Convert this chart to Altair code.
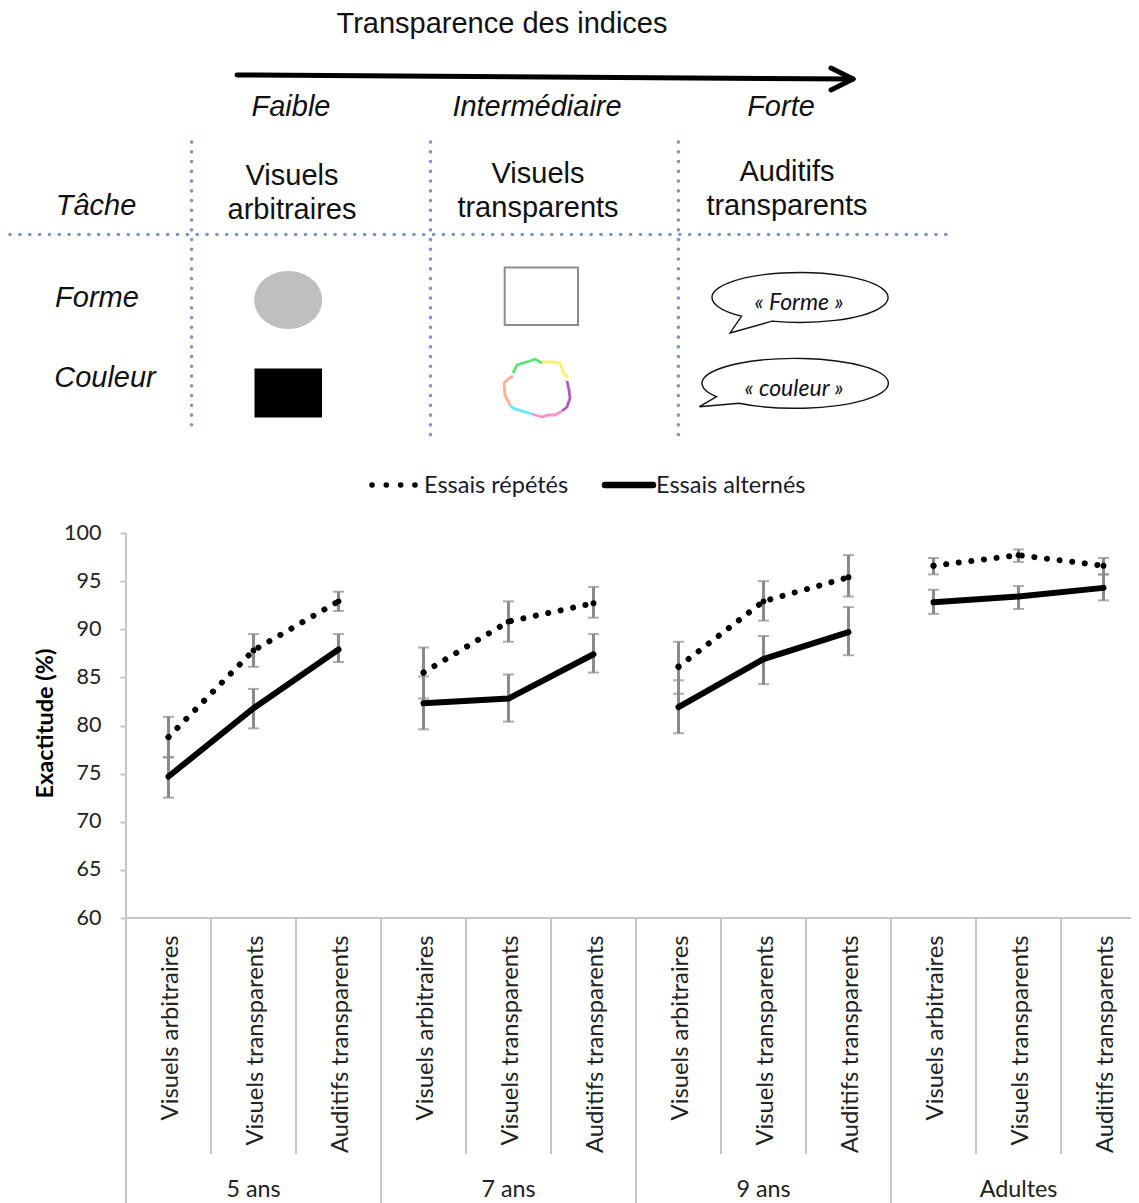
import altair as alt
import pandas as pd

# ---------- chart data ----------
groups = ["5 ans", "7 ans", "9 ans", "Adultes"]
cues = ["Visuels arbitraires", "Visuels transparents", "Auditifs transparents"]
rep_mean = [78.8, 87.8, 92.9, 85.5, 90.8, 92.7, 86.1, 92.9, 95.4, 96.6, 97.7, 96.6]
rep_top = [80.9, 89.5, 93.9, 88.1, 92.9, 94.4, 88.7, 95.0, 97.7, 97.4, 98.3, 97.4]
rep_low = [76.7, 86.1, 91.9, 82.8, 88.7, 91.2, 83.3, 90.9, 93.4, 95.7, 97.0, 95.7]
alt_mean = [74.7, 81.8, 87.9, 82.3, 82.8, 87.4, 81.9, 86.9, 89.7, 92.8, 93.4, 94.3]
alt_top = [76.7, 83.8, 89.5, 85.1, 85.3, 89.5, 84.7, 89.3, 92.3, 94.1, 94.5, 95.7]
alt_low = [72.5, 79.7, 86.6, 79.6, 80.4, 85.5, 79.2, 84.3, 87.3, 91.6, 92.1, 93.0]
y_ticks = [60, 65, 70, 75, 80, 85, 90, 95, 100]

FONT_T = "Lato"
FONT_D = "Liberation Sans"
GREY = "#c6c6c6"
BAR = "#8a8a8a"
XMAX = 1131

pos = [i + 0.5 for i in range(12)]
rows = []
for nm, m, t, l in (("r", rep_mean, rep_top, rep_low), ("a", alt_mean, alt_top, alt_low)):
    for p, a, b, c in zip(pos, m, t, l):
        rows.append({"p": p, "s": nm, "m": a, "t": b, "l": c})
df = pd.DataFrame(rows)

XS = alt.Scale(domain=[-118 / 85, (XMAX - 126) / 85], nice=False, zero=False)
YS = alt.Scale(domain=[60 - 285 / 9.625, 100 + 525 / 9.625], nice=False, zero=False)
X = alt.X("p:Q", scale=XS, axis=None)
YAX = alt.Axis(
    values=y_ticks, offset=-118, domain=False, grid=False, tickColor=GREY, tickWidth=2, tickSize=6,
    labelFont=FONT_T, labelFontSize=21.5, labelColor="#222222", labelPadding=19,
    title="Exactitude (%)", titleFont=FONT_T, titleFontSize=23.5, titleFontWeight="bold",
    titleColor="#000000", titleX=-81, titleY=715, titleAngle=270, titleAlign="center", titleBaseline="middle",
)


def Yq(f):
    return alt.Y(f + ":Q", scale=YS, axis=YAX)


# axis lines
long_sep = pd.DataFrame({"p": [0, 3, 6, 9], "y0": [60 - 285 / 9.625] * 4, "y1": [60] * 4})
short_sep = pd.DataFrame({"p": [1, 2, 4, 5, 7, 8, 10, 11], "y0": [60 - 236 / 9.625] * 8, "y1": [60] * 8})
yline = pd.DataFrame({"p": [0], "y0": [60], "y1": [100]})
xline = pd.DataFrame({"p": [0], "p2": [(XMAX - 126) / 85], "v": [60]})


def vrule(d, color=GREY, w=2):
    return alt.Chart(d).mark_rule(color=color, strokeWidth=w).encode(x=X, y=Yq("y0"), y2="y1:Q")


x_rule = alt.Chart(xline).mark_rule(color=GREY, strokeWidth=2).encode(x=X, x2="p2:Q", y=Yq("v"))

# error bars
err_v = alt.Chart(df).mark_rule(color=BAR, strokeWidth=3).encode(x=X, y=Yq("t"), y2="l:Q")
err_t = alt.Chart(df).mark_tick(color=BAR, orient="horizontal", size=11, thickness=2).encode(x=X, y=Yq("t"))
err_l = alt.Chart(df).mark_tick(color=BAR, orient="horizontal", size=11, thickness=2).encode(x=X, y=Yq("l"))

# series, one line per age group
df["g"] = [int(p // 3) for p in df["p"]]
dotted = alt.Chart(df[df.s == "r"]).mark_line(
    color="black", strokeWidth=6, strokeCap="round", strokeDash=[0.1, 12.6]
).encode(x=X, y=Yq("m"), detail="g:N")
dots = alt.Chart(df[df.s == "r"]).mark_point(filled=True, color="black", size=34, opacity=1).encode(x=X, y=Yq("m"))
solid = alt.Chart(df[df.s == "a"]).mark_line(color="black", strokeWidth=6, strokeCap="round").encode(
    x=X, y=Yq("m"), detail="g:N"
)

# category texts
cat_df = pd.DataFrame({"p": [p + 0.03 for p in pos], "v": [58.2] * 12, "t": cues * 4})
cat_text = alt.Chart(cat_df).mark_text(
    angle=270, align="right", baseline="middle", font=FONT_T, fontSize=23.8, color="#222222"
).encode(x=X, y=Yq("v"), text="t:N")
grp_df = pd.DataFrame({"p": [1.5, 4.5, 7.5, 10.5], "v": [60 - 272 / 9.625] * 4, "t": groups})
grp_text = alt.Chart(grp_df).mark_text(
    align="center", baseline="middle", font=FONT_T, fontSize=23.3, color="#222222"
).encode(x=X, y=Yq("v"), text="t:N")

bottom = alt.layer(
    vrule(long_sep), vrule(short_sep), vrule(yline), x_rule,
    err_v, err_t, err_l, dotted, solid, dots, cat_text, grp_text,
)

# ---------- schematic (own scales, picture units) ----------
PX = alt.Scale(domain=[8, XMAX], nice=False, zero=False)
PY = alt.Scale(domain=[1203, 8], nice=False, zero=False)
def qx(f="x"):
    return alt.X(f + ":Q", scale=PX, axis=None)
def qy(f="y"):
    return alt.Y(f + ":Q", scale=PY, axis=None)


plain_x = [502, 292, 292, 538, 538, 787, 787]
plain_y = [24, 176, 210, 174, 208, 172, 206]
plain_t = ["Transparence des indices", "Visuels", "arbitraires", "Visuels", "transparents", "Auditifs", "transparents"]
ital_x = [291, 537, 781, 96, 97, 105]
ital_y = [107, 107, 107, 206, 298, 378]
ital_t = ["Faible", "Intermédiaire", "Forte", "Tâche", "Forme", "Couleur"]
bub_x = [799, 794]
bub_y = [303, 389]
bub_t = ["« Forme »", "« couleur »"]
leg_x = [424, 656]
leg_y = [486, 486]
leg_t = ["Essais répétés", "Essais alternés"]


def texts(xs, ys, ts, **kw):
    d = pd.DataFrame({"x": xs, "y": ys, "t": ts})
    return alt.Chart(d).mark_text(baseline="middle", **kw).encode(x=qx(), y=qy(), text="t:N")


def seg(x0, y0, x1, y1, **kw):
    d = pd.DataFrame({"x": [x0, x1], "y": [y0, y1]})
    return alt.Chart(d).mark_line(**kw).encode(x=qx(), y=qy())


DOT_H = dict(color="#7d94c6", strokeWidth=3.6, strokeCap="round", strokeDash=[0.1, 9.75])
DOT_V = dict(color="#7d94c6", strokeWidth=3.6, strokeCap="round", strokeDash=[0.1, 9.65])
ring_seg = {
    "#3fe05a": ([513, 517, 523, 530, 535, 542], [373, 365, 363, 361, 359, 363]),
    "#ffec4d": ([542, 552, 560, 563, 568], [362, 362, 363, 372, 378]),
    "#a23fb5": ([567, 569, 570, 567, 562], [381, 390, 398, 407, 411]),
    "#ff7fc4": ([562, 555, 548, 542, 532], [411, 415, 415, 417, 414]),
    "#45e6ff": ([532, 522, 513, 510], [414, 411, 408, 405]),
    "#ffa184": ([510, 505, 504, 508, 513], [405, 395, 383, 379, 376]),
}

ELL = "M-1,0A1,0.853 0 1 1 1,0A1,0.853 0 1 1 -1,0Z"
B1 = "M-0.664,0.212L-0.795,0.403L-0.318,0.269A1,0.284 0 1 0 -0.664,0.212Z"
B2 = "M-0.842,0.144L-1.025,0.251L-0.601,0.214A1,0.268 0 1 0 -0.842,0.144Z"

def sym(x, y, path, w, **kw):
    d = pd.DataFrame({"x": [x], "y": [y]})
    return alt.Chart(d).mark_point(shape=path, size=w * w, filled=True, opacity=1, **kw).encode(x=qx(), y=qy())


def box(x0, x1, y0, y1, **kw):
    d = pd.DataFrame({"x": [x0], "x2": [x1], "y": [y0], "y2": [y1]})
    return alt.Chart(d).mark_rect(**kw).encode(x=qx(), x2="x2:Q", y=qy(), y2="y2:Q")


ring_layers = [
    alt.Chart(pd.DataFrame({"x": xs, "y": ys, "i": list(range(len(xs)))}))
    .mark_line(color=c, strokeWidth=2.8, opacity=0.85)
    .encode(x=qx(), y=qy(), order="i:Q")
    for c, (xs, ys) in ring_seg.items()
]

ARW = dict(color="black", strokeWidth=5, strokeCap="round")
top = alt.layer(
    seg(237, 75, 853, 79, **ARW),
    seg(831, 68, 853, 79, **ARW),
    seg(831, 90, 853, 79, **ARW),
    seg(10, 234.5, 947, 234.5, **DOT_H),
    seg(191.6, 142, 191.6, 426, **DOT_V),
    seg(430.5, 142, 430.5, 436, **DOT_V),
    seg(678.4, 142, 678.4, 436, **DOT_V),
    sym(288.2, 300, ELL, 68, fill="#bfbfbf", stroke=None),
    box(254.5, 322, 368.5, 417.5, color="black"),
    box(504.7, 578, 267.5, 325, fill="white", stroke="#8c8c8c", strokeWidth=2),
    *ring_layers,
    sym(800, 297.5, B1, 176, fill="white", stroke="#111111", strokeWidth=1.4),
    sym(795, 383.3, B2, 186.4, fill="white", stroke="#111111", strokeWidth=1.4),
    seg(372, 485, 416, 485, color="black", strokeWidth=5.5, strokeCap="round", strokeDash=[0.1, 14.2]),
    seg(605, 485, 653, 485, color="black", strokeWidth=6.5, strokeCap="round"),
    texts(plain_x, plain_y, plain_t, align="center", font=FONT_D, fontSize=29, color="#111111"),
    texts(ital_x, ital_y, ital_t, align="center", font=FONT_D, fontSize=29, fontStyle="italic", color="#111111"),
    texts(bub_x, bub_y, bub_t, align="center", font=FONT_T, fontSize=23, fontStyle="italic", color="#111122"),
    texts(leg_x, leg_y, leg_t, align="left", font=FONT_T, fontSize=23.5, color="#1a1a2a"),
)

chart = (
    alt.layer(bottom, top)
    .resolve_scale(x="independent", y="independent")
    .properties(width=XMAX - 8, height=1195, padding=0, autosize=alt.AutoSizeParams(type="none"))
    .configure_view(stroke=None)
)
chart.save("out.html", embed_options={"renderer": "svg", "actions": False})
